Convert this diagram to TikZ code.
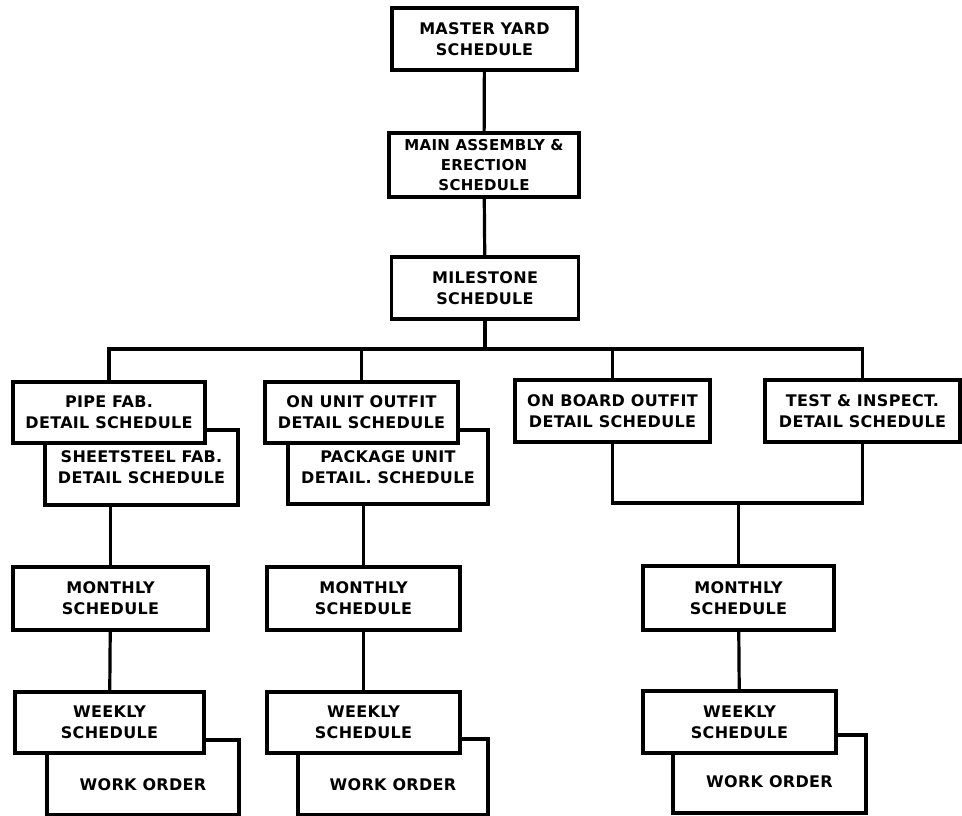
\documentclass[tikz,border=0pt]{standalone}
\usepackage{fontspec}
\newfontfamily\chartfont{DejaVu Sans}[LetterSpace=2]

\begin{document}
\begin{tikzpicture}[x=1pt, y=-1pt,
    schedbox/.style={draw, line width=3.2pt, fill=white, inner sep=0pt, align=center,
        font=\chartfont\bfseries\fontsize{16pt}{21pt}\selectfont},
    wobox/.style={schedbox, text height=26pt, text depth=0pt},
    link/.style={line width=3.2pt}]
    \useasboundingbox (0,0) rectangle (962,816);

    % top of the chart
    \node[schedbox, minimum width=185pt, minimum height=62pt] (master) at (484.5, 39) {MASTER YARD\\SCHEDULE};
    \node[schedbox, minimum width=190pt, minimum height=64pt,
        font=\chartfont\bfseries\fontsize{15pt}{20pt}\selectfont] (main) at (484, 165) {MAIN ASSEMBLY \&\\ERECTION\\SCHEDULE};
    \node[schedbox, minimum width=187pt, minimum height=62pt] (milestone) at (485, 288) {MILESTONE\\SCHEDULE};

    % detail schedules (back boxes first)
    \node[schedbox, minimum width=193pt, minimum height=75pt] (sheet) at (141.5, 467.5) {SHEETSTEEL FAB.\\DETAIL SCHEDULE};
    \node[schedbox, minimum width=200pt, minimum height=74pt] (package) at (388, 467) {PACKAGE UNIT\\DETAIL. SCHEDULE};
    \node[schedbox, minimum width=192pt, minimum height=61pt] (pipe) at (109, 412.5) {PIPE FAB.\\DETAIL SCHEDULE};
    \node[schedbox, minimum width=193pt, minimum height=61pt] (onunit) at (361.5, 412.5) {ON UNIT OUTFIT\\DETAIL SCHEDULE};
    \node[schedbox, minimum width=195pt, minimum height=62pt] (onboard) at (612.5, 411) {ON BOARD OUTFIT\\DETAIL SCHEDULE};
    \node[schedbox, minimum width=195pt, minimum height=62pt] (test) at (862.5, 411) {TEST \& INSPECT.\\DETAIL SCHEDULE};

    % monthly schedules
    \node[schedbox, minimum width=195pt, minimum height=63pt] (monthA) at (110.5, 598.5) {MONTHLY\\SCHEDULE};
    \node[schedbox, minimum width=193pt, minimum height=63pt] (monthB) at (363.5, 598.5) {MONTHLY\\SCHEDULE};
    \node[schedbox, minimum width=191pt, minimum height=64pt] (monthC) at (738.5, 598) {MONTHLY\\SCHEDULE};

    % work orders behind the weekly schedules
    \node[wobox, minimum width=192pt, minimum height=75pt] (woA) at (143, 777.5) {WORK ORDER};
    \node[wobox, minimum width=190pt, minimum height=76pt] (woB) at (393, 777) {WORK ORDER};
    \node[wobox, minimum width=193pt, minimum height=78pt] (woC) at (769.5, 774) {WORK ORDER};
    \node[schedbox, minimum width=189pt, minimum height=61pt] (weekA) at (109.5, 722.5) {WEEKLY\\SCHEDULE};
    \node[schedbox, minimum width=193pt, minimum height=61pt] (weekB) at (363.5, 722.5) {WEEKLY\\SCHEDULE};
    \node[schedbox, minimum width=193pt, minimum height=62pt] (weekC) at (739.5, 722) {WEEKLY\\SCHEDULE};

    \coordinate (bus) at (485, 349);
    \coordinate (joinC) at (738.5, 503);

    \draw[link] (master) -- (main);
    \draw[link] (main) -- (milestone);
    \draw[link] (milestone) -- (bus);
    \draw[link] (pipe.north) |- (bus) -| (test.north);
    \draw[link] (onunit.north) -- (onunit.north |- bus);
    \draw[link] (onboard.north) -- (onboard.north |- bus);

    \draw[link] (monthA.north |- sheet.south) -- (monthA.north);
    \draw[link] (monthB.north |- package.south) -- (monthB.north);
    \draw[link] (onboard.south) |- (joinC) -| (test.south);
    \draw[link] (joinC) -- (monthC.north);

    \draw[link] (monthA) -- (weekA);
    \draw[link] (monthB) -- (weekB);
    \draw[link] (monthC) -- (weekC);
\end{tikzpicture}
\end{document}
